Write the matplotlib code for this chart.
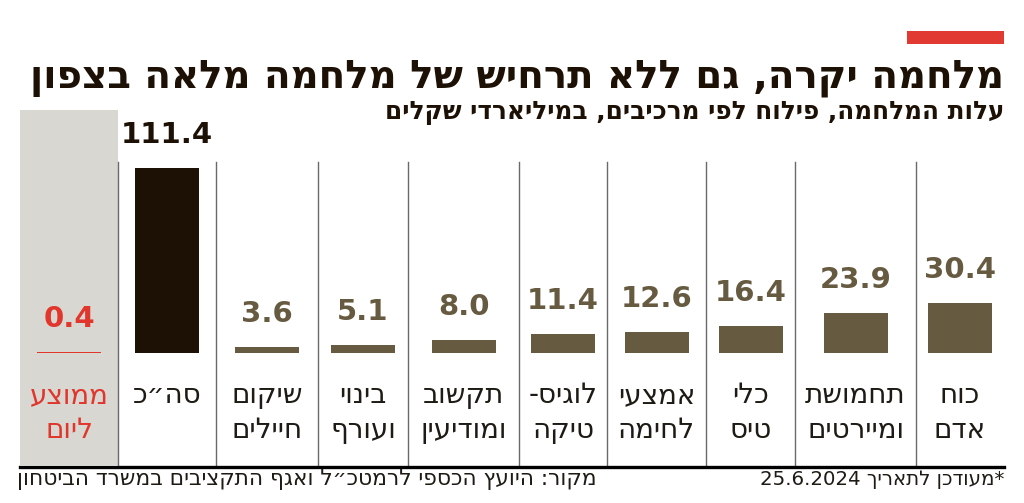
import re
import matplotlib
matplotlib.use("Agg")
from matplotlib import pyplot as plt
from matplotlib import transforms
from matplotlib.patches import Rectangle

# data (left to right as drawn)
labels = ["ממוצע\nליום", "סה״כ", "שיקום\nחיילים", "בינוי\nועורף", "תקשוב\nומודיעין",
          "לוגיס-\nטיקה", "אמצעי\nלחימה", "כלי\nטיס", "תחמושת\nומיירטים", "כוח\nאדם"]
values = [0.4, 111.4, 3.6, 5.1, 8.0, 11.4, 12.6, 16.4, 23.9, 30.4]

title = "מלחמה יקרה, גם ללא תרחיש של מלחמה מלאה בצפון"
subtitle = "עלות המלחמה, פילוח לפי מרכיבים, במיליארדי שקלים"
source = "מקור: היועץ הכספי לרמטכ״ל ואגף התקציבים במשרד הביטחון"
note = "*מעודכן לתאריך 25.6.2024"

# column edges in pixels (layout)
edges = [20, 118, 216, 318, 408, 519, 607, 706, 795, 916, 1004]
centers = [(a + b) / 2 for a, b in zip(edges[:-1], edges[1:])]

OLIVE = "#665b41"
DARK = "#1d1106"
RED = "#e0362c"
GRAY = "#d8d7d2"
TXT = "#1e1a14"

W, H = 1024, 503
BASE = 353          # baseline pixel row
PXU = 1.661         # pixels per billion


def heb(s):
    # matplotlib draws left to right, so flip hebrew lines but keep numbers intact
    out = []
    for line in s.split("\n"):
        parts = re.findall(r"\d[\d.]*\d|\d|.", line)
        out.append("".join(reversed(parts)))
    return "\n".join(out)


fig = plt.figure(figsize=(W / 100, H / 100), dpi=100)
fig.patch.set_facecolor("white")
px = transforms.Affine2D().scale(1 / W, -1 / H).translate(0, 1) + fig.transFigure
renderer = fig.canvas.get_renderer()


def fit(t, width):
    # shrink/grow font so the text spans the same width as in the original
    bb = t.get_window_extent(renderer)
    t.set_fontsize(t.get_fontsize() * width / bb.width)


ax = fig.add_axes([0, 0, 1, 1])
ax.set_xlim(0, W)
ax.set_ylim(-(H - BASE) / PXU, BASE / PXU)
ax.axis("off")

# gray "per day" panel
ax.add_patch(Rectangle((20, 110), 98, 355, transform=px, facecolor=GRAY,
                       edgecolor="none", zorder=0))

colors = [RED, DARK] + [OLIVE] * (len(values) - 2)
ax.bar(centers, values, width=64, color=colors, zorder=3)

# value labels
for i, (x, v) in enumerate(zip(centers, values)):
    c = RED if i == 0 else (DARK if i == 1 else OLIVE)
    ax.text(x, v + 19 / PXU, f"{v:.1f}", ha="center", va="bottom", color=c,
            fontsize=21, fontweight="bold", family="DejaVu Sans", zorder=4)

# column labels
for i, (x, lab) in enumerate(zip(centers, labels)):
    c = RED if i == 0 else TXT
    fig.text(x, 381, heb(lab), transform=px, ha="center", va="top", color=c,
             fontsize=20, family="DejaVu Sans", linespacing=1.3)

# separators
for x in edges[1:-1]:
    fig.add_artist(plt.Line2D([x, x], [162, 465], transform=px, color="#6a6a6a", lw=1))
fig.add_artist(plt.Line2D([20, 1004], [467, 467], transform=px, color="black", lw=2.4))

# red tag
fig.patches.append(Rectangle((907, 31), 97, 13, transform=px, facecolor="#e03a33",
                             edgecolor="none"))

t = fig.text(1004, 78, heb(title), transform=px, ha="right", va="center", color=DARK,
             fontsize=30, fontweight="bold", family="DejaVu Sans")
fit(t, 972)
t = fig.text(1004, 113, heb(subtitle), transform=px, ha="right", va="center", color=DARK,
             fontsize=15, fontweight="bold", family="DejaVu Sans")
fit(t, 619)
t = fig.text(597, 480, heb(source), transform=px, ha="right", va="center", color=TXT,
             fontsize=13, family="DejaVu Sans")
fit(t, 577)
t = fig.text(1004, 480, heb(note), transform=px, ha="right", va="center", color=TXT,
             fontsize=13, family="DejaVu Sans")
fit(t, 244)

fig.savefig("out.png", dpi=100)
